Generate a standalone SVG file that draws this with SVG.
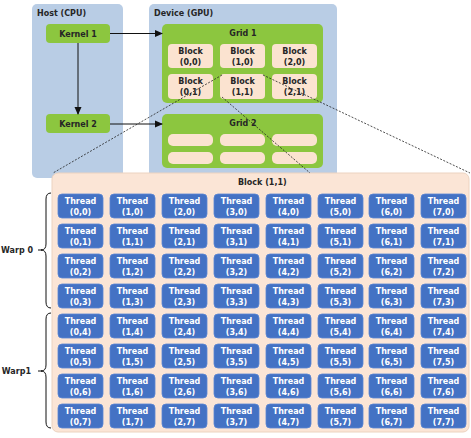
<svg xmlns="http://www.w3.org/2000/svg" width="471" height="438" viewBox="0 0 471 438">
<style>
.panel{fill:#b9cde5}
.green{fill:#8cc63f}
.blk{fill:#fbe3d0}
.big{fill:#fbe5d6;stroke:#ecd3c0;stroke-width:1}
.th{fill:#4472c4;stroke:#5b86d4;stroke-width:0.8}
text{font-family:"DejaVu Sans",Verdana,sans-serif;font-weight:bold;font-size:8px}
.tt{fill:#ffffff;text-anchor:middle}
.dk{fill:#262626}
.c{text-anchor:middle}
.arr{stroke:#111;stroke-width:1;fill:none}
.dot{stroke:#222;stroke-width:0.8;stroke-dasharray:2 1.5;fill:none}
.brace{stroke:#111;stroke-width:1;fill:none}
</style>
<defs>
<marker id="ah" markerWidth="8" markerHeight="8" refX="7" refY="4" orient="auto" markerUnits="userSpaceOnUse">
<path d="M0,0.5 L8,4 L0,7.5 Z" fill="#111"/>
</marker>
</defs>
<g id="host"><rect class="panel" x="32" y="4" width="91" height="174" rx="5"/><text class="dk" x="37" y="16">Host (CPU)</text></g>
<g id="device"><rect class="panel" x="149" y="4" width="188" height="174" rx="5"/><text class="dk" x="154" y="16">Device (GPU)</text></g>
<g id="kernel1"><rect class="green" x="46" y="24" width="64" height="19" rx="4"/><text class="dk c" x="78" y="36.5">Kernel 1</text></g>
<g id="kernel2"><rect class="green" x="46" y="114" width="64" height="19" rx="4"/><text class="dk c" x="78" y="126.5">Kernel 2</text></g>
<g id="grid1"><rect class="green" x="162" y="24" width="161" height="79" rx="5"/><text class="dk c" x="243" y="36">Grid 1</text></g>
<g id="b00"><rect class="blk" x="168" y="44" width="45" height="24" rx="4"/><text class="dk c" x="190.5" y="54">Block</text><text class="dk c" x="190.5" y="65">(0,0)</text></g>
<g id="b10"><rect class="blk" x="220" y="44" width="45" height="24" rx="4"/><text class="dk c" x="242.5" y="54">Block</text><text class="dk c" x="242.5" y="65">(1,0)</text></g>
<g id="b20"><rect class="blk" x="272" y="44" width="45" height="24" rx="4"/><text class="dk c" x="294.5" y="54">Block</text><text class="dk c" x="294.5" y="65">(2,0)</text></g>
<g id="b01"><rect class="blk" x="168" y="74" width="45" height="25" rx="4"/><text class="dk c" x="190.5" y="84">Block</text><text class="dk c" x="190.5" y="95">(0,1)</text></g>
<g id="b11"><rect class="blk" x="220" y="74" width="45" height="25" rx="4"/><text class="dk c" x="242.5" y="84">Block</text><text class="dk c" x="242.5" y="95">(1,1)</text></g>
<g id="b21"><rect class="blk" x="272" y="74" width="45" height="25" rx="4"/><text class="dk c" x="294.5" y="84">Block</text><text class="dk c" x="294.5" y="95">(2,1)</text></g>
<g id="grid2"><rect class="green" x="162" y="114" width="161" height="54" rx="5"/><text class="dk c" x="243" y="126">Grid 2</text>
<rect class="blk" x="168" y="134" width="45" height="12" rx="5"/><rect class="blk" x="220" y="134" width="45" height="12" rx="5"/><rect class="blk" x="272" y="134" width="45" height="12" rx="5"/>
<rect class="blk" x="168" y="152" width="45" height="12" rx="5"/><rect class="blk" x="220" y="152" width="45" height="12" rx="5"/><rect class="blk" x="272" y="152" width="45" height="12" rx="5"/></g>
<g id="block11"><rect class="big" x="52" y="173" width="417" height="259" rx="6"/><text class="dk" x="238" y="185">Block (1,1)</text></g>
<g id="connectors">
<line class="arr" x1="110" y1="33.5" x2="162" y2="33.5" marker-end="url(#ah)"/>
<line class="arr" x1="110" y1="124" x2="162" y2="124" marker-end="url(#ah)"/>
<line class="arr" x1="78" y1="43" x2="78" y2="114" marker-end="url(#ah)"/>
<line class="dot" x1="222" y1="75" x2="53" y2="173"/>
<line class="dot" x1="222" y1="97" x2="310" y2="173"/>
<line class="dot" x1="263" y1="75" x2="470" y2="173"/>
</g>
<g id="warp0"><path class="brace" d="M51,193 Q46,193 46,199 L46,244 Q46,250 41,250 Q46,250 46,256 L46,302 Q46,308 51,308"/><line class="brace" x1="38" y1="250" x2="42" y2="250"/><text class="dk" x="33" y="253" text-anchor="end">Warp 0</text></g>
<g id="warp1"><path class="brace" d="M51,313 Q46,313 46,319 L46,365 Q46,371 41,371 Q46,371 46,377 L46,422 Q46,428 51,428"/><line class="brace" x1="38" y1="371" x2="42" y2="371"/><text class="dk" x="31" y="374" text-anchor="end">Warp1</text></g>
<g id="t00" transform="translate(58,194)"><rect class="th" width="45" height="24" rx="4"/><text class="tt" x="22.5" y="10">Thread</text><text class="tt" x="22.5" y="21">(0,0)</text></g>
<g id="t10" transform="translate(110,194)"><rect class="th" width="45" height="24" rx="4"/><text class="tt" x="22.5" y="10">Thread</text><text class="tt" x="22.5" y="21">(1,0)</text></g>
<g id="t20" transform="translate(162,194)"><rect class="th" width="45" height="24" rx="4"/><text class="tt" x="22.5" y="10">Thread</text><text class="tt" x="22.5" y="21">(2,0)</text></g>
<g id="t30" transform="translate(214,194)"><rect class="th" width="45" height="24" rx="4"/><text class="tt" x="22.5" y="10">Thread</text><text class="tt" x="22.5" y="21">(3,0)</text></g>
<g id="t40" transform="translate(266,194)"><rect class="th" width="45" height="24" rx="4"/><text class="tt" x="22.5" y="10">Thread</text><text class="tt" x="22.5" y="21">(4,0)</text></g>
<g id="t50" transform="translate(318,194)"><rect class="th" width="45" height="24" rx="4"/><text class="tt" x="22.5" y="10">Thread</text><text class="tt" x="22.5" y="21">(5,0)</text></g>
<g id="t60" transform="translate(369,194)"><rect class="th" width="45" height="24" rx="4"/><text class="tt" x="22.5" y="10">Thread</text><text class="tt" x="22.5" y="21">(6,0)</text></g>
<g id="t70" transform="translate(421,194)"><rect class="th" width="45" height="24" rx="4"/><text class="tt" x="22.5" y="10">Thread</text><text class="tt" x="22.5" y="21">(7,0)</text></g>
<g id="t01" transform="translate(58,224)"><rect class="th" width="45" height="24" rx="4"/><text class="tt" x="22.5" y="10">Thread</text><text class="tt" x="22.5" y="21">(0,1)</text></g>
<g id="t11" transform="translate(110,224)"><rect class="th" width="45" height="24" rx="4"/><text class="tt" x="22.5" y="10">Thread</text><text class="tt" x="22.5" y="21">(1,1)</text></g>
<g id="t21" transform="translate(162,224)"><rect class="th" width="45" height="24" rx="4"/><text class="tt" x="22.5" y="10">Thread</text><text class="tt" x="22.5" y="21">(2,1)</text></g>
<g id="t31" transform="translate(214,224)"><rect class="th" width="45" height="24" rx="4"/><text class="tt" x="22.5" y="10">Thread</text><text class="tt" x="22.5" y="21">(3,1)</text></g>
<g id="t41" transform="translate(266,224)"><rect class="th" width="45" height="24" rx="4"/><text class="tt" x="22.5" y="10">Thread</text><text class="tt" x="22.5" y="21">(4,1)</text></g>
<g id="t51" transform="translate(318,224)"><rect class="th" width="45" height="24" rx="4"/><text class="tt" x="22.5" y="10">Thread</text><text class="tt" x="22.5" y="21">(5,1)</text></g>
<g id="t61" transform="translate(369,224)"><rect class="th" width="45" height="24" rx="4"/><text class="tt" x="22.5" y="10">Thread</text><text class="tt" x="22.5" y="21">(6,1)</text></g>
<g id="t71" transform="translate(421,224)"><rect class="th" width="45" height="24" rx="4"/><text class="tt" x="22.5" y="10">Thread</text><text class="tt" x="22.5" y="21">(7,1)</text></g>
<g id="t02" transform="translate(58,254)"><rect class="th" width="45" height="24" rx="4"/><text class="tt" x="22.5" y="10">Thread</text><text class="tt" x="22.5" y="21">(0,2)</text></g>
<g id="t12" transform="translate(110,254)"><rect class="th" width="45" height="24" rx="4"/><text class="tt" x="22.5" y="10">Thread</text><text class="tt" x="22.5" y="21">(1,2)</text></g>
<g id="t22" transform="translate(162,254)"><rect class="th" width="45" height="24" rx="4"/><text class="tt" x="22.5" y="10">Thread</text><text class="tt" x="22.5" y="21">(2,2)</text></g>
<g id="t32" transform="translate(214,254)"><rect class="th" width="45" height="24" rx="4"/><text class="tt" x="22.5" y="10">Thread</text><text class="tt" x="22.5" y="21">(3,2)</text></g>
<g id="t42" transform="translate(266,254)"><rect class="th" width="45" height="24" rx="4"/><text class="tt" x="22.5" y="10">Thread</text><text class="tt" x="22.5" y="21">(4,2)</text></g>
<g id="t52" transform="translate(318,254)"><rect class="th" width="45" height="24" rx="4"/><text class="tt" x="22.5" y="10">Thread</text><text class="tt" x="22.5" y="21">(5,2)</text></g>
<g id="t62" transform="translate(369,254)"><rect class="th" width="45" height="24" rx="4"/><text class="tt" x="22.5" y="10">Thread</text><text class="tt" x="22.5" y="21">(6,2)</text></g>
<g id="t72" transform="translate(421,254)"><rect class="th" width="45" height="24" rx="4"/><text class="tt" x="22.5" y="10">Thread</text><text class="tt" x="22.5" y="21">(7,2)</text></g>
<g id="t03" transform="translate(58,284)"><rect class="th" width="45" height="24" rx="4"/><text class="tt" x="22.5" y="10">Thread</text><text class="tt" x="22.5" y="21">(0,3)</text></g>
<g id="t13" transform="translate(110,284)"><rect class="th" width="45" height="24" rx="4"/><text class="tt" x="22.5" y="10">Thread</text><text class="tt" x="22.5" y="21">(1,3)</text></g>
<g id="t23" transform="translate(162,284)"><rect class="th" width="45" height="24" rx="4"/><text class="tt" x="22.5" y="10">Thread</text><text class="tt" x="22.5" y="21">(2,3)</text></g>
<g id="t33" transform="translate(214,284)"><rect class="th" width="45" height="24" rx="4"/><text class="tt" x="22.5" y="10">Thread</text><text class="tt" x="22.5" y="21">(3,3)</text></g>
<g id="t43" transform="translate(266,284)"><rect class="th" width="45" height="24" rx="4"/><text class="tt" x="22.5" y="10">Thread</text><text class="tt" x="22.5" y="21">(4,3)</text></g>
<g id="t53" transform="translate(318,284)"><rect class="th" width="45" height="24" rx="4"/><text class="tt" x="22.5" y="10">Thread</text><text class="tt" x="22.5" y="21">(5,3)</text></g>
<g id="t63" transform="translate(369,284)"><rect class="th" width="45" height="24" rx="4"/><text class="tt" x="22.5" y="10">Thread</text><text class="tt" x="22.5" y="21">(6,3)</text></g>
<g id="t73" transform="translate(421,284)"><rect class="th" width="45" height="24" rx="4"/><text class="tt" x="22.5" y="10">Thread</text><text class="tt" x="22.5" y="21">(7,3)</text></g>
<g id="t04" transform="translate(58,314)"><rect class="th" width="45" height="24" rx="4"/><text class="tt" x="22.5" y="10">Thread</text><text class="tt" x="22.5" y="21">(0,4)</text></g>
<g id="t14" transform="translate(110,314)"><rect class="th" width="45" height="24" rx="4"/><text class="tt" x="22.5" y="10">Thread</text><text class="tt" x="22.5" y="21">(1,4)</text></g>
<g id="t24" transform="translate(162,314)"><rect class="th" width="45" height="24" rx="4"/><text class="tt" x="22.5" y="10">Thread</text><text class="tt" x="22.5" y="21">(2,4)</text></g>
<g id="t34" transform="translate(214,314)"><rect class="th" width="45" height="24" rx="4"/><text class="tt" x="22.5" y="10">Thread</text><text class="tt" x="22.5" y="21">(3,4)</text></g>
<g id="t44" transform="translate(266,314)"><rect class="th" width="45" height="24" rx="4"/><text class="tt" x="22.5" y="10">Thread</text><text class="tt" x="22.5" y="21">(4,4)</text></g>
<g id="t54" transform="translate(318,314)"><rect class="th" width="45" height="24" rx="4"/><text class="tt" x="22.5" y="10">Thread</text><text class="tt" x="22.5" y="21">(5,4)</text></g>
<g id="t64" transform="translate(369,314)"><rect class="th" width="45" height="24" rx="4"/><text class="tt" x="22.5" y="10">Thread</text><text class="tt" x="22.5" y="21">(6,4)</text></g>
<g id="t74" transform="translate(421,314)"><rect class="th" width="45" height="24" rx="4"/><text class="tt" x="22.5" y="10">Thread</text><text class="tt" x="22.5" y="21">(7,4)</text></g>
<g id="t05" transform="translate(58,344)"><rect class="th" width="45" height="24" rx="4"/><text class="tt" x="22.5" y="10">Thread</text><text class="tt" x="22.5" y="21">(0,5)</text></g>
<g id="t15" transform="translate(110,344)"><rect class="th" width="45" height="24" rx="4"/><text class="tt" x="22.5" y="10">Thread</text><text class="tt" x="22.5" y="21">(1,5)</text></g>
<g id="t25" transform="translate(162,344)"><rect class="th" width="45" height="24" rx="4"/><text class="tt" x="22.5" y="10">Thread</text><text class="tt" x="22.5" y="21">(2,5)</text></g>
<g id="t35" transform="translate(214,344)"><rect class="th" width="45" height="24" rx="4"/><text class="tt" x="22.5" y="10">Thread</text><text class="tt" x="22.5" y="21">(3,5)</text></g>
<g id="t45" transform="translate(266,344)"><rect class="th" width="45" height="24" rx="4"/><text class="tt" x="22.5" y="10">Thread</text><text class="tt" x="22.5" y="21">(4,5)</text></g>
<g id="t55" transform="translate(318,344)"><rect class="th" width="45" height="24" rx="4"/><text class="tt" x="22.5" y="10">Thread</text><text class="tt" x="22.5" y="21">(5,5)</text></g>
<g id="t65" transform="translate(369,344)"><rect class="th" width="45" height="24" rx="4"/><text class="tt" x="22.5" y="10">Thread</text><text class="tt" x="22.5" y="21">(6,5)</text></g>
<g id="t75" transform="translate(421,344)"><rect class="th" width="45" height="24" rx="4"/><text class="tt" x="22.5" y="10">Thread</text><text class="tt" x="22.5" y="21">(7,5)</text></g>
<g id="t06" transform="translate(58,374)"><rect class="th" width="45" height="24" rx="4"/><text class="tt" x="22.5" y="10">Thread</text><text class="tt" x="22.5" y="21">(0,6)</text></g>
<g id="t16" transform="translate(110,374)"><rect class="th" width="45" height="24" rx="4"/><text class="tt" x="22.5" y="10">Thread</text><text class="tt" x="22.5" y="21">(1,6)</text></g>
<g id="t26" transform="translate(162,374)"><rect class="th" width="45" height="24" rx="4"/><text class="tt" x="22.5" y="10">Thread</text><text class="tt" x="22.5" y="21">(2,6)</text></g>
<g id="t36" transform="translate(214,374)"><rect class="th" width="45" height="24" rx="4"/><text class="tt" x="22.5" y="10">Thread</text><text class="tt" x="22.5" y="21">(3,6)</text></g>
<g id="t46" transform="translate(266,374)"><rect class="th" width="45" height="24" rx="4"/><text class="tt" x="22.5" y="10">Thread</text><text class="tt" x="22.5" y="21">(4,6)</text></g>
<g id="t56" transform="translate(318,374)"><rect class="th" width="45" height="24" rx="4"/><text class="tt" x="22.5" y="10">Thread</text><text class="tt" x="22.5" y="21">(5,6)</text></g>
<g id="t66" transform="translate(369,374)"><rect class="th" width="45" height="24" rx="4"/><text class="tt" x="22.5" y="10">Thread</text><text class="tt" x="22.5" y="21">(6,6)</text></g>
<g id="t76" transform="translate(421,374)"><rect class="th" width="45" height="24" rx="4"/><text class="tt" x="22.5" y="10">Thread</text><text class="tt" x="22.5" y="21">(7,6)</text></g>
<g id="t07" transform="translate(58,404)"><rect class="th" width="45" height="24" rx="4"/><text class="tt" x="22.5" y="10">Thread</text><text class="tt" x="22.5" y="21">(0,7)</text></g>
<g id="t17" transform="translate(110,404)"><rect class="th" width="45" height="24" rx="4"/><text class="tt" x="22.5" y="10">Thread</text><text class="tt" x="22.5" y="21">(1,7)</text></g>
<g id="t27" transform="translate(162,404)"><rect class="th" width="45" height="24" rx="4"/><text class="tt" x="22.5" y="10">Thread</text><text class="tt" x="22.5" y="21">(2,7)</text></g>
<g id="t37" transform="translate(214,404)"><rect class="th" width="45" height="24" rx="4"/><text class="tt" x="22.5" y="10">Thread</text><text class="tt" x="22.5" y="21">(3,7)</text></g>
<g id="t47" transform="translate(266,404)"><rect class="th" width="45" height="24" rx="4"/><text class="tt" x="22.5" y="10">Thread</text><text class="tt" x="22.5" y="21">(4,7)</text></g>
<g id="t57" transform="translate(318,404)"><rect class="th" width="45" height="24" rx="4"/><text class="tt" x="22.5" y="10">Thread</text><text class="tt" x="22.5" y="21">(5,7)</text></g>
<g id="t67" transform="translate(369,404)"><rect class="th" width="45" height="24" rx="4"/><text class="tt" x="22.5" y="10">Thread</text><text class="tt" x="22.5" y="21">(6,7)</text></g>
<g id="t77" transform="translate(421,404)"><rect class="th" width="45" height="24" rx="4"/><text class="tt" x="22.5" y="10">Thread</text><text class="tt" x="22.5" y="21">(7,7)</text></g>
</svg>
